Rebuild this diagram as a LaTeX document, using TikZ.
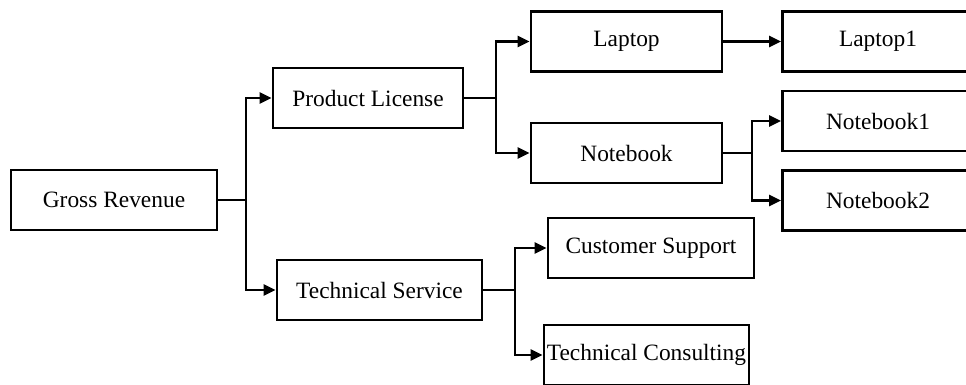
\documentclass[tikz,border=0pt]{standalone}
\usepackage{fontspec}
\setmainfont{Liberation Serif}
\usetikzlibrary{arrows.meta}
\begin{document}
\begin{tikzpicture}[x=1pt,y=-1pt,
  box/.style={draw=black,line width=2.9pt,rectangle,inner sep=0pt,
    minimum width=#1,minimum height=60pt,
    font=\fontsize{23.4}{28}\selectfont},
  box/.default=200pt,
  link/.style={line width=2.9pt,-{Triangle[length=12pt,width=11pt]}},
  wire/.style={line width=2.9pt}]
\useasboundingbox (0,0) rectangle (966,385);

% boxes
\node[box=206pt] (gr) at (114,200) {Gross Revenue};
\node[box=190pt] (pl) at (368,98) {Product License};
\node[box=205pt] (ts) at (379.5,290) {Technical Service};
\node[box=191pt] (lap) at (626.5,41.5) {Laptop};
\node[box=191pt] (nb) at (626.5,153) {Notebook};
\node[box=191pt] (lap1) at (878,41.5) {Laptop1};
\node[box=191pt] (nb1) at (878,121) {Notebook1};
\node[box=191pt] (nb2) at (878,200.5) {Notebook2};
\node[box=206pt] (cs) at (651,248) {Customer Support};
\node[box=205pt] (tc) at (646.5,355) {Technical Consulting};

% branch points
\coordinate (b1) at (246,200);
\coordinate (b2) at (496,98);
\coordinate (b3) at (515,290);
\coordinate (b4) at (752,153);

% connectors
\draw[wire] (gr.east) -- (b1);
\draw[link] (b1) |- (pl.west);
\draw[link] (b1) |- (ts.west);
\draw[wire] (pl.east) -- (b2);
\draw[link] (b2) |- (lap.west);
\draw[link] (b2) |- (nb.west);
\draw[link] (lap.east) -- (lap1.west);
\draw[wire] (nb.east) -- (b4);
\draw[link] (b4) |- (nb1.west);
\draw[link] (b4) |- (nb2.west);
\draw[wire] (ts.east) -- (b3);
\draw[link] (b3) |- (cs.west);
\draw[link] (b3) |- (tc.west);
\end{tikzpicture}
\end{document}
